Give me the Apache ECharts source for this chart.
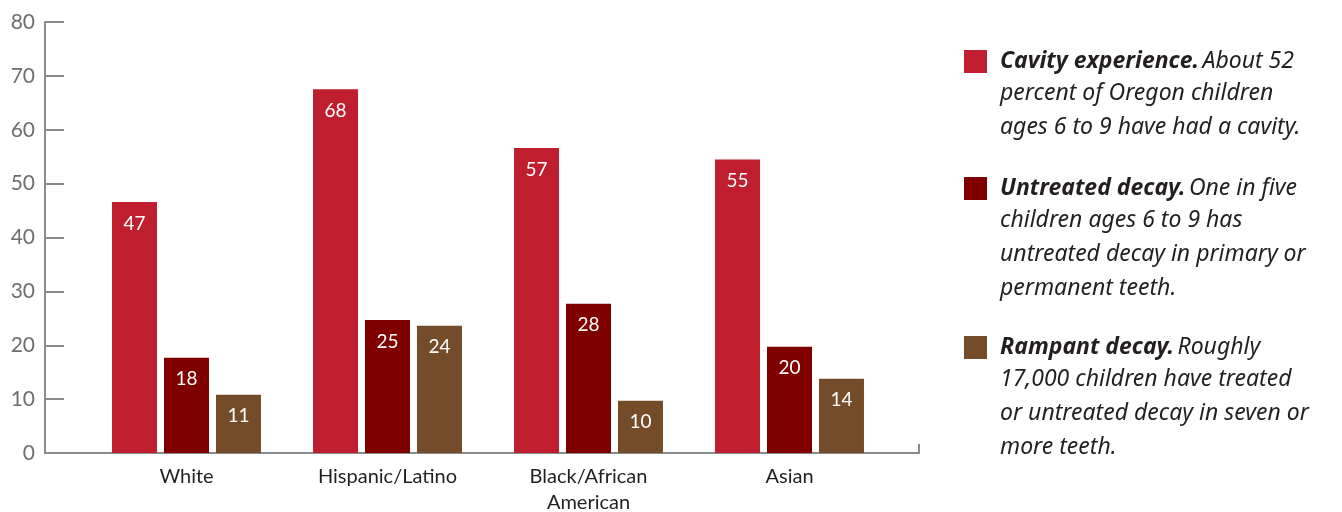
<!DOCTYPE html>
<html><head><meta charset="utf-8">
<script src="https://cdn.jsdelivr.net/npm/echarts@6/dist/echarts.min.js"></script>
<style>html,body{margin:0;padding:0;background:#fff}#c{width:1342px;height:512px}</style>
</head><body><div id="c"></div>
<script>
const categories = ['White', 'Hispanic/Latino', 'Black/African\nAmerican', 'Asian'];
const cavity = [46.6, 67.5, 56.6, 54.5];
const untreated = [17.7, 24.7, 27.7, 19.7];
const rampant = [10.8, 23.6, 9.7, 13.8];
const yTicks = [0, 10, 20, 30, 40, 50, 60, 70, 80];
const seriesNames = ['Cavity experience', 'Untreated decay', 'Rampant decay'];
const legendBold = ['Cavity experience.', 'Untreated decay.', 'Rampant decay.'];
const legendFirst = ['About 52', 'One in five', 'Roughly'];
const legendRest = [
  'percent of Oregon children\nages 6 to 9 have had a cavity.',
  'children ages 6 to 9 has\nuntreated decay in primary or\npermanent teeth.',
  '17,000 children have treated\nor untreated decay in seven or\nmore teeth.'
];
const colors = ['#BE1E2D', '#800000', '#754C29'];

const chart = echarts.init(document.getElementById('c'), null, {renderer: 'canvas'});
const axisGray = '#898a8d';
const legendTops = [50, 177, 336];
const restTops = [76, 203, 362];
const legendFont = '"Noto Sans"';
const legendSize = 23;

const barLabel = {
  show: true, position: 'insideTop', distance: 12, color: '#fff',
  fontSize: 19, fontFamily: 'Lato', formatter: p => Math.round(p.value)
};

chart.setOption({
  animation: false,
  grid: [
    {left: 45, width: 874, top: 22, height: 431, outerBoundsMode: 'none', containLabel: false},
    {left: 86, width: 804, top: 22, height: 431, outerBoundsMode: 'none', containLabel: false}
  ],
  xAxis: [
    {gridIndex: 0, type: 'value', min: 0, max: 1, interval: 1,
     axisLine: {show: true, lineStyle: {color: axisGray, width: 2}},
     axisTick: {show: true, inside: true, length: 9, lineStyle: {color: axisGray, width: 2}},
     axisLabel: {show: false}, splitLine: {show: false}},
    {gridIndex: 1, type: 'category', data: categories,
     axisLine: {show: false}, axisTick: {show: false},
     axisLabel: {margin: 11, fontSize: 20, fontFamily: 'Lato', color: '#231f20', lineHeight: 26}}
  ],
  yAxis: [
    {gridIndex: 0, type: 'value', min: 0, max: 80, interval: 10,
     axisLine: {show: true, lineStyle: {color: axisGray, width: 2}},
     axisTick: {show: true, inside: true, length: 19, lineStyle: {color: axisGray, width: 2}},
     axisLabel: {margin: 10, fontSize: 21, fontFamily: 'Lato', color: '#6d6e71',
       formatter: v => yTicks.includes(v) ? String(v) : ''},
     splitLine: {show: false}},
    {gridIndex: 1, type: 'value', min: 0, max: 80, show: false}
  ],
  legend: seriesNames.map((n, i) => ({
    data: [n], left: 964, top: legendTops[i], padding: 0, itemWidth: 23, itemHeight: 23,
    icon: 'rect', selectedMode: false,
    formatter: () => '{b|' + legendBold[i] + '} {r|' + legendFirst[i] + '}',
    textStyle: {
      padding: [0, 0, 0, 8],
      rich: {
        b: {fontFamily: legendFont, fontStyle: 'italic', fontWeight: 'bold', fontSize: legendSize, color: '#231f20', lineHeight: 34},
        r: {fontFamily: legendFont, fontStyle: 'italic', fontSize: legendSize, color: '#231f20', lineHeight: 34}
      }
    }
  })),
  graphic: legendRest.map((t, i) => ({
    type: 'text', left: 1000, top: restTops[i],
    style: {text: t, font: 'italic ' + legendSize + 'px "Noto Sans"', fill: '#231f20', lineHeight: 34}
  })),
  series: [
    {name: seriesNames[0], type: 'bar', xAxisIndex: 1, yAxisIndex: 1, data: cavity,
     barWidth: 45, barGap: '15.5%', itemStyle: {color: colors[0]}, label: barLabel},
    {name: seriesNames[1], type: 'bar', xAxisIndex: 1, yAxisIndex: 1, data: untreated,
     barWidth: 45, barGap: '15.5%', itemStyle: {color: colors[1]}, label: barLabel},
    {name: seriesNames[2], type: 'bar', xAxisIndex: 1, yAxisIndex: 1, data: rampant,
     barWidth: 45, barGap: '15.5%', itemStyle: {color: colors[2]}, label: barLabel}
  ]
});
</script></body></html>
